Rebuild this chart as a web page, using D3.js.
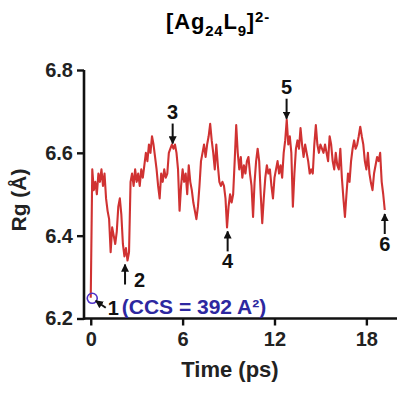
<!DOCTYPE html>
<html>
<head>
<meta charset="utf-8">
<script src="https://cdn.jsdelivr.net/npm/d3@7"></script>
<style>
  body { margin: 0; background: #fff; }
  svg { font-family: "Liberation Sans", Arial, sans-serif; font-weight: bold; }
</style>
</head>
<body>
<svg id="chart" width="415" height="395"></svg>
<script>
// Radius of gyration trace, one frame every 0.1 ps
const frameStep = 0.1
const rgValues = [
    6.25, 6.56, 6.51, 6.53, 6.50, 6.55, 6.53, 6.56, 6.52, 6.55,
    6.49, 6.46, 6.44, 6.36, 6.42, 6.40, 6.38, 6.41, 6.47, 6.49,
    6.45, 6.38, 6.35, 6.37, 6.34, 6.36, 6.53, 6.55, 6.52, 6.56,
    6.53, 6.55, 6.52, 6.56, 6.54, 6.57, 6.60, 6.58, 6.62, 6.60,
    6.64, 6.62, 6.59, 6.56, 6.52, 6.49, 6.55, 6.53, 6.56, 6.54,
    6.55, 6.60, 6.61, 6.62, 6.61, 6.62, 6.60, 6.56, 6.46, 6.52,
    6.56, 6.53, 6.55, 6.50, 6.57, 6.53, 6.51, 6.48, 6.46, 6.44,
    6.47, 6.52, 6.58, 6.60, 6.62, 6.59, 6.62, 6.64, 6.67, 6.63,
    6.60, 6.56, 6.62, 6.57, 6.53, 6.52, 6.53, 6.52, 6.49, 6.42,
    6.47, 6.50, 6.48, 6.50, 6.58, 6.667, 6.60, 6.56, 6.59, 6.54,
    6.57, 6.55, 6.58, 6.59, 6.55, 6.52, 6.445, 6.53, 6.58, 6.61,
    6.58, 6.50, 6.43, 6.49, 6.54, 6.57, 6.55, 6.56, 6.52, 6.49,
    6.54, 6.56, 6.58, 6.55, 6.57, 6.54, 6.60, 6.63, 6.68, 6.62,
    6.64, 6.60, 6.47, 6.55, 6.61, 6.63, 6.61, 6.66, 6.62, 6.59,
    6.62, 6.60, 6.58, 6.55, 6.56, 6.55, 6.62, 6.667, 6.62, 6.60,
    6.62, 6.61, 6.60, 6.62, 6.60, 6.58, 6.64, 6.62, 6.58, 6.56,
    6.60, 6.57, 6.56, 6.61, 6.54, 6.49, 6.445, 6.50, 6.55, 6.53,
    6.58, 6.61, 6.63, 6.61, 6.62, 6.64, 6.663, 6.64, 6.62, 6.58,
    6.56, 6.60, 6.55, 6.527, 6.51, 6.55, 6.57, 6.59, 6.58, 6.60,
    6.53, 6.50, 6.462
]

const xTicks = [0, 6, 12, 18]
const yTicks = [6.2, 6.4, 6.6, 6.8]

// labelled frames: number, time (ps), Rg of the marked point, arrow direction
const frameLabels = ['2', '3', '4', '5', '6']
const frameTimes = [2.24, 5.35, 8.94, 12.79, 19.2]
const frameRg = [6.34, 6.62, 6.42, 6.68, 6.462]
const frameDir = ['up', 'down', 'up', 'down', 'up']

const ccsText = '(CCS = 392 A²)'

const red = "rgb(208,50,50)"
const blue = "rgb(45,40,160)"

const plotLeft = 84,
    plotRight = 397,
    plotTop = 70,
    plotBottom = 318.5

const svg = d3.select('#chart')

const x = d3.scaleLinear()
    .domain([-0.44, 20.0])
    .range([plotLeft, plotRight])

const y = d3.scaleLinear()
    .domain([6.2, 6.8])
    .range([plotBottom, plotTop])

const data = rgValues.map((v, i) => ({ t: i * frameStep, rg: v }))

// title [Ag24L9]2-
const title = svg.append('text')
    .attr('x', 218)
    .attr('y', 29)
    .attr('text-anchor', 'middle')
    .attr('font-size', 22)
    .attr('letter-spacing', 0.8)
title.append('tspan').text('[Ag')
title.append('tspan').attr('font-size', 15).attr('dy', 7).text('24')
title.append('tspan').attr('dy', -7).text('L')
title.append('tspan').attr('font-size', 15).attr('dy', 7).text('9')
title.append('tspan').attr('dy', -7).text(']')
title.append('tspan').attr('font-size', 15).attr('dy', -7).text('2-')

// trace
svg.append('path')
    .datum(data)
    .attr('fill', 'none')
    .attr('stroke', red)
    .attr('stroke-width', 2.1)
    .attr('stroke-linejoin', 'round')
    .attr('d', d3.line().x(d => x(d.t)).y(d => y(d.rg)))

// axes
const xAxis = svg.append('g')
    .attr('transform', `translate(0, ${plotBottom})`)
    .call(d3.axisBottom(x).tickValues(xTicks).tickSize(7).tickPadding(6).tickSizeOuter(0))
const yAxis = svg.append('g')
    .attr('transform', `translate(${plotLeft}, 0)`)
    .call(d3.axisLeft(y).tickValues(yTicks).tickFormat(d3.format('.1f')).tickSize(7).tickPadding(4).tickSizeOuter(0))

for (const ax of [xAxis, yAxis]) {
    ax.select('.domain').attr('stroke', '#111').attr('stroke-width', 2.6)
    ax.selectAll('.tick line').attr('stroke', '#111').attr('stroke-width', 2.4)
    ax.selectAll('.tick text')
        .attr('fill', '#222')
        .attr('font-size', 20)
        .attr('font-family', '"Liberation Sans", Arial, sans-serif')
        .attr('font-weight', 'bold')
}
yAxis.select('.domain').attr('d', `M0,${plotBottom + 1.3}V${plotTop}`)
xAxis.select('.domain').attr('d', `M${plotLeft},0H${plotRight}`)

// axis titles
svg.append('text')
    .attr('x', 230)
    .attr('y', 377)
    .attr('text-anchor', 'middle')
    .attr('font-size', 22)
    .attr('fill', '#222')
    .text('Time (ps)')

svg.append('text')
    .attr('transform', 'translate(26, 200) rotate(-90)')
    .attr('text-anchor', 'middle')
    .attr('font-size', 21)
    .attr('fill', '#222')
    .text('Rg (Å)')

// arrow heads
svg.append('defs')
    .append('marker')
    .attr('id', 'head')
    .attr('viewBox', '0 0 10 10')
    .attr('refX', 9)
    .attr('refY', 5)
    .attr('markerWidth', 4)
    .attr('markerHeight', 4)
    .attr('orient', 'auto')
    .append('path')
    .attr('d', 'M0,0 L10,5 L0,10 z')
    .attr('fill', '#111')

// numbered frames
frameLabels.forEach((lab, i) => {
    const px = x(frameTimes[i])
    const py = y(frameRg[i])
    const down = frameDir[i] === 'down'
    const tip = down ? py - 1 : py + 4
    const tail = down ? tip - 20 : tip + 20
    svg.append('line')
        .attr('x1', px).attr('x2', px)
        .attr('y1', tail).attr('y2', tip)
        .attr('stroke', '#111')
        .attr('stroke-width', 2)
        .attr('marker-end', 'url(#head)')
    const side = lab === '2'
    svg.append('text')
        .attr('x', side ? px + 9 : px)
        .attr('y', side ? tail + 2 : (down ? tail - 5 : tail + 17))
        .attr('text-anchor', side ? 'start' : 'middle')
        .attr('font-size', 20)
        .attr('fill', '#111')
        .text(lab)
})

// frame 1, start of the trace
const p0 = data[0]
svg.append('circle')
    .attr('cx', x(p0.t) + 1.5)
    .attr('cy', y(p0.rg) + 0.5)
    .attr('r', 5)
    .attr('fill', 'none')
    .attr('stroke', 'rgb(80,50,200)')
    .attr('stroke-width', 1.6)
svg.append('line')
    .attr('x1', x(p0.t) + 15).attr('y1', y(p0.rg) + 10)
    .attr('x2', x(p0.t) + 5).attr('y2', y(p0.rg) + 3)
    .attr('stroke', '#111')
    .attr('stroke-width', 2)
    .attr('marker-end', 'url(#head)')
svg.append('text')
    .attr('x', x(p0.t) + 17)
    .attr('y', y(p0.rg) + 17)
    .attr('font-size', 20)
    .attr('fill', '#111')
    .text('1')
svg.append('text')
    .attr('x', x(p0.t) + 31)
    .attr('y', y(p0.rg) + 16)
    .attr('font-size', 21)
    .attr('fill', blue)
    .text(ccsText)
</script>
</body>
</html>
